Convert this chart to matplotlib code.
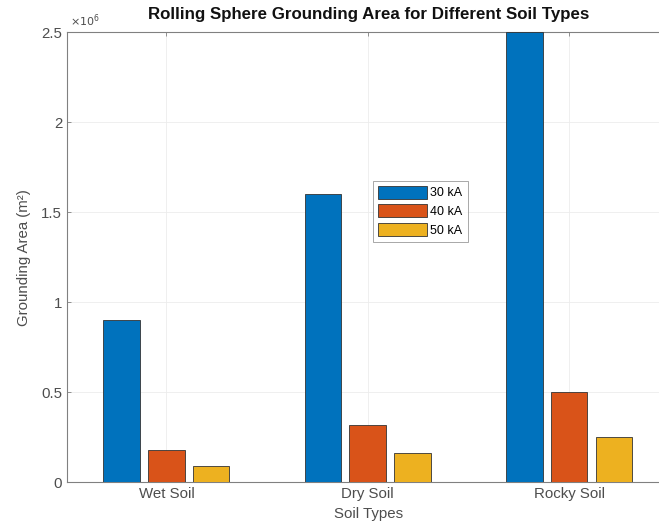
import matplotlib
matplotlib.use("Agg")
import matplotlib.pyplot as plt
from matplotlib.ticker import FuncFormatter
import numpy as np

plt.rcParams["font.family"] = ["Liberation Sans", "DejaVu Sans"]

soil_types = ["Wet Soil", "Dry Soil", "Rocky Soil"]
currents = ["30 kA", "40 kA", "50 kA"]
area_30ka = [0.90e6, 1.60e6, 2.50e6]
area_40ka = [0.18e6, 0.32e6, 0.50e6]
area_50ka = [0.09e6, 0.16e6, 0.25e6]
colors = ["#0072BD", "#D95319", "#EDB120"]

fig = plt.figure(figsize=(6.59, 5.32), dpi=100)
ax = fig.add_axes([67 / 659, 1 - 482.3 / 532, 604 / 659, 450.3 / 532])

x = np.arange(1, len(soil_types) + 1)
width = 0.182
offsets = [-0.222, 0.0, 0.222]
for series, off, col, lab in zip([area_30ka, area_40ka, area_50ka], offsets, colors, currents):
    ax.bar(x + off, series, width, color=col, edgecolor="#333333", linewidth=0.6,
           label=lab, zorder=3)

ax.set_xlim(0.506, 3.506)
ax.set_ylim(0, 2.5e6)
ax.set_xticks(x)
ax.set_xticklabels(soil_types)
ax.set_yticks(np.arange(0, 2.51e6, 0.5e6))
ax.yaxis.set_major_formatter(FuncFormatter(lambda v, p: f"{v / 1e6:g}"))

for s in ax.spines.values():
    s.set_color("#808080")
    s.set_linewidth(0.8)
ax.tick_params(direction="in", top=True, right=True, length=3, width=0.6,
               colors="#808080", labelcolor="#4d4d4d", labelsize=10.8)
ax.grid(True, color="#ececec", linewidth=0.6, zorder=0)
ax.set_axisbelow(True)

ax.set_title("Rolling Sphere Grounding Area for Different Soil Types",
             fontsize=12.2, fontweight="bold", color="#111111", pad=9)
ax.set_xlabel("Soil Types", fontsize=10.8, color="#4d4d4d", labelpad=4)
ax.set_ylabel("Grounding Area (m²)", fontsize=10.8, color="#4d4d4d", labelpad=7)
ax.text(0.005, 1.006, r"$\times10^{6}$", transform=ax.transAxes, fontsize=8,
        color="#4d4d4d", va="bottom", ha="left")

leg = ax.legend(loc="upper left", bbox_to_anchor=(373 / 659, 1 - 180.7 / 532),
                bbox_transform=fig.transFigure, fontsize=9, frameon=True,
                fancybox=False, edgecolor="#808080", handlelength=3.9,
                handleheight=1.2, handletextpad=0.3, labelspacing=0.4,
                borderpad=0.4, borderaxespad=0)
leg.get_frame().set_linewidth(0.6)

fig.savefig("out.png", dpi=100)
